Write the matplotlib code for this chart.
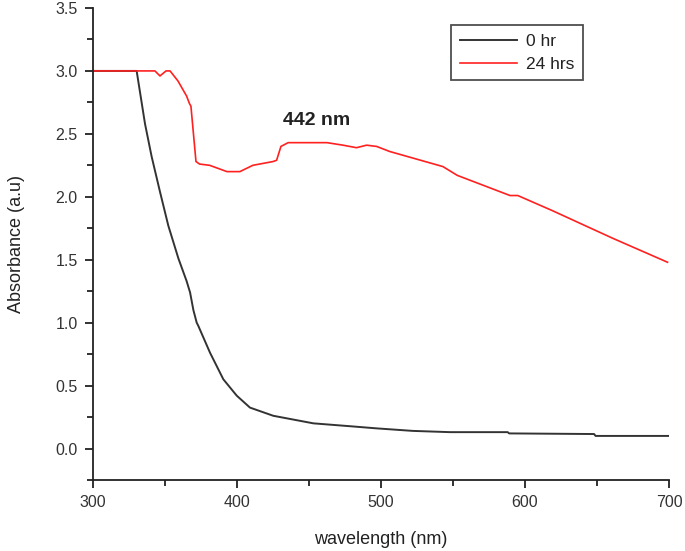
import matplotlib
matplotlib.use("Agg")
import matplotlib.pyplot as plt
from matplotlib.ticker import MultipleLocator, FormatStrFormatter

plt.rcParams['font.family'] = ['Liberation Sans', 'DejaVu Sans']

# 0 hr spectrum
wl_0hr = [300, 330.3, 336.1, 340.7, 346.5, 352.3, 359.3, 365, 367.4, 369.7, 372,
          373.1, 381.3, 390.5, 399.8, 409, 425.2, 453, 480.8, 497, 522, 548,
          588, 589, 648, 649, 700]
abs_0hr = [3.0, 3.0, 2.58, 2.32, 2.04, 1.77, 1.51, 1.33, 1.24, 1.10, 1.00,
           0.975, 0.76, 0.55, 0.42, 0.325, 0.26, 0.20, 0.175, 0.16, 0.14, 0.13,
           0.13, 0.12, 0.115, 0.10, 0.10]

# 24 hrs spectrum
wl_24h = [300, 343, 346.5, 350.7, 353.5, 359, 365, 367, 368, 371.5, 374, 381, 393,
          402, 411, 425, 427.5, 430.5, 435.5, 462.5, 473.6, 483, 490, 497, 506,
          543, 553, 589.6, 595, 619, 661, 699]
abs_24h = [3.0, 3.0, 2.96, 3.0, 3.0, 2.92, 2.80, 2.74, 2.72, 2.28, 2.26, 2.25, 2.20,
           2.20, 2.25, 2.28, 2.29, 2.40, 2.43, 2.43, 2.41, 2.39, 2.41, 2.40, 2.36,
           2.24, 2.17, 2.01, 2.01, 1.89, 1.67, 1.48]

labels = ["0 hr", "24 hrs"]
peak_label = "442 nm"

fig = plt.figure(figsize=(6.85, 5.51), dpi=100)
ax = fig.add_axes([0.1358, 0.1289, 0.9766 - 0.1358, 0.9855 - 0.1289])

ax.plot(wl_0hr, abs_0hr, color='#333333', lw=1.4, label=labels[0])
ax.plot(wl_24h, abs_24h, color='#ff2020', lw=1.2, label=labels[1])

ax.set_xlim(300, 700)
ax.set_ylim(-0.25, 3.5)
ax.xaxis.set_major_locator(MultipleLocator(100))
ax.xaxis.set_minor_locator(MultipleLocator(50))
ax.yaxis.set_major_locator(MultipleLocator(0.5))
ax.yaxis.set_minor_locator(MultipleLocator(0.25))
ax.yaxis.set_major_formatter(FormatStrFormatter('%.1f'))

for s in ['top', 'right']:
    ax.spines[s].set_visible(False)
for s in ['left', 'bottom']:
    ax.spines[s].set_linewidth(1.3)
    ax.spines[s].set_color('#222222')

ax.tick_params(which='major', direction='out', length=6, width=1.3, colors='#222222',
               labelsize=11.5, labelcolor='#333333', pad=5)
ax.tick_params(which='minor', direction='out', length=4, width=1.3, colors='#222222')

ax.set_xlabel("wavelength (nm)", fontsize=13, color='#222222', labelpad=15)
ax.set_ylabel("Absorbance (a.u)", fontsize=13, color='#222222', labelpad=22)

ax.text(455.5, 2.61, peak_label, fontsize=14, fontweight='bold', ha='center', va='center',
        color='#222222')

leg = ax.legend(loc='upper left', bbox_to_anchor=((451 - 93) / 576, 1 - (25 - 8) / 472),
                fontsize=12.5, frameon=True, fancybox=False, handlelength=3.3,
                borderpad=0.5, labelspacing=0.45, handletextpad=0.5, borderaxespad=0)
leg.get_frame().set_edgecolor('#222222')
leg.get_frame().set_linewidth(1.3)
for t in leg.get_texts():
    t.set_color('#222222')

fig.savefig("out.png", dpi=100)
